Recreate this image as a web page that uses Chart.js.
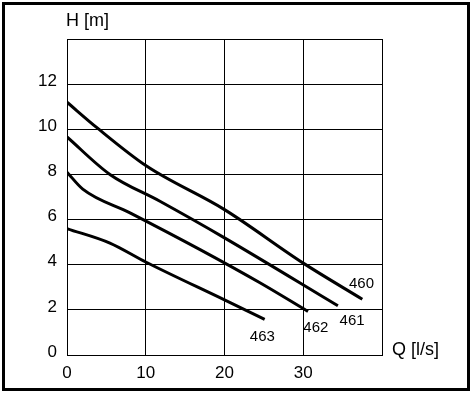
<!DOCTYPE html>
<html>
<head>
<meta charset="utf-8">
<script src="https://cdn.jsdelivr.net/npm/chart.js@4/dist/chart.umd.min.js"></script>
<style>
  html, body { margin: 0; padding: 0; background: #fff; }
  #wrap { position: relative; width: 472px; height: 393px; }
  #frame {
    position: absolute; left: 2px; top: 2px; width: 468px; height: 389px;
    box-sizing: border-box; border: 3px solid #000; pointer-events: none;
  }
  canvas { position: absolute; left: 0; top: 0; }
</style>
</head>
<body>
<div id="wrap">
  <canvas id="pumpChart" width="472" height="393"></canvas>
  <div id="frame"></div>
</div>
<script>
// pump curves, Q in l/s and H in m
const q460 = [0, 3.8, 10.1, 20, 30, 37.5];
const h460 = [11.2, 10.07, 8.37, 6.44, 4.07, 2.47];

const q461 = [0, 5.45, 11.8, 20, 34.4];
const h461 = [9.66, 8.0, 6.81, 5.19, 2.18];

const q462 = [0, 2, 8, 16.9, 24.5, 30.6];
const h462 = [8.1, 7.35, 6.3, 4.67, 3.2, 1.93];

const q463 = [0, 5.45, 10, 20, 25.1];
const h463 = [5.6, 4.96, 4.12, 2.44, 1.58];

const xTickLabels = [0, 10, 20, 30];
const yTickLabels = [0, 2, 4, 6, 8, 10, 12];

// where the curve names sit (in data units)
const curveLabels = [
  { text: "460", q: 37.4, h: 3.16 },
  { text: "461", q: 36.2, h: 1.51 },
  { text: "462", q: 31.6, h: 1.21 },
  { text: "463", q: 24.8, h: 0.81 },
];

function toPoints(qs, hs) {
  return qs.map((q, i) => ({ x: q, y: hs[i] }));
}

function curve(qs, hs) {
  return {
    data: toPoints(qs, hs),
    borderColor: "#000",
    borderWidth: 3,
    pointRadius: 0,
    fill: false,
    cubicInterpolationMode: "monotone",
  };
}

const textPlugin = {
  id: "texts",
  afterDraw(chart) {
    const ctx = chart.ctx;
    const xs = chart.scales.x;
    const ys = chart.scales.y;
    ctx.save();
    ctx.fillStyle = "#000";
    ctx.textBaseline = "middle";

    ctx.font = "15px 'Liberation Sans', Arial, sans-serif";
    ctx.textAlign = "center";
    curveLabels.forEach((l) => {
      ctx.fillText(l.text, xs.getPixelForValue(l.q), ys.getPixelForValue(l.h));
    });

    ctx.font = "18px 'Liberation Sans', Arial, sans-serif";
    ctx.textAlign = "left";
    ctx.fillText("H [m]", chart.chartArea.left - 1, chart.chartArea.top - 18);
    ctx.fillText("Q [l/s]", chart.chartArea.right + 10, chart.chartArea.bottom - 5);
    ctx.restore();
  },
};

Chart.defaults.font.family = "'Liberation Sans', Arial, sans-serif";

new Chart(document.getElementById("pumpChart"), {
  type: "line",
  data: {
    datasets: [
      curve(q460, h460),
      curve(q461, h461),
      curve(q462, h462),
      curve(q463, h463),
    ],
  },
  options: {
    responsive: false,
    animation: false,
    layout: { padding: { left: 37, right: 90, top: 39, bottom: 8 } },
    plugins: { legend: { display: false }, tooltip: { enabled: false } },
    scales: {
      x: {
        type: "linear",
        min: 0,
        max: 40,
        afterFit: (s) => { s.height = 30; },
        grid: { color: "#000", lineWidth: 1, drawTicks: false },
        border: { color: "#000", width: 1 },
        ticks: {
          stepSize: 10,
          padding: 8,
          color: "#000",
          font: { size: 17 },
          maxRotation: 0,
          callback: (v) => (xTickLabels.includes(v) ? v : ""),
        },
      },
      y: {
        min: 0,
        max: 14,
        afterFit: (s) => { s.width = 30; },
        grid: { color: "#000", lineWidth: 1, drawTicks: false },
        border: { color: "#000", width: 1 },
        ticks: {
          stepSize: 2,
          padding: 10,
          labelOffset: -3,
          color: "#000",
          font: { size: 17 },
          callback: (v) => (yTickLabels.includes(v) ? v : ""),
        },
      },
    },
  },
  plugins: [textPlugin],
});
</script>
</body>
</html>
